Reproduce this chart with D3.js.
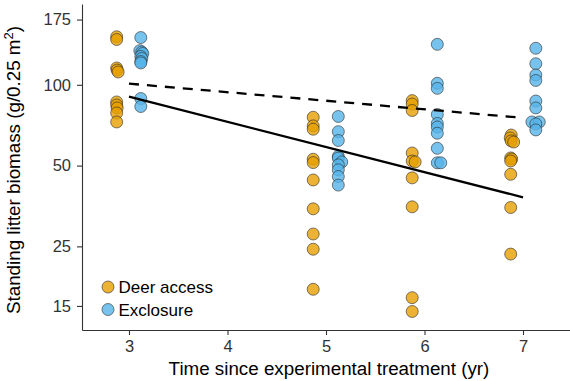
<!DOCTYPE html>
<html>
<head>
<meta charset="utf-8">
<script src="https://cdn.jsdelivr.net/npm/d3@7"></script>
<style>
  html, body { margin: 0; padding: 0; background: #fff; }
  svg { display: block; font-family: "Liberation Sans", Arial, sans-serif; }
</style>
</head>
<body>
<svg id="chart" width="570" height="381"></svg>
<script>
// ---- data: [time (yr, jittered), standing litter biomass (g/0.25 m2)] ----
const deer3 = [[2.875,151],[2.875,147.5],[2.875,115.5],[2.88,113.5],[2.89,111.6],[2.875,86.3],[2.875,84.1],[2.88,82],[2.875,78.5],[2.875,72.7]];
const deer5 = [[4.87,75.7],[4.87,70.3],[4.87,68.3],[4.87,52.8],[4.87,51.3],[4.87,44.2],[4.87,34.5],[4.87,27.8],[4.87,24.4],[4.87,17.3]];
const deer6 = [[5.875,87.3],[5.875,84.8],[5.875,80.2],[5.875,55.7],[5.875,52],[5.905,51.6],[5.875,45],[5.875,35.1],[5.875,16.1],[5.875,14.3]];
const deer7 = [[6.88,65],[6.87,63.4],[6.88,61.8],[6.905,61.2],[6.875,53.4],[6.885,52.9],[6.875,52],[6.875,46.4],[6.875,34.9],[6.875,23.4]];
const excl3 = [[3.12,150],[3.11,134],[3.13,132.5],[3.14,130.8],[3.12,127.5],[3.13,125.3],[3.12,122.1],[3.12,120.6],[3.12,88.9],[3.12,83]];
const excl5 = [[5.125,76.2],[5.125,66.9],[5.125,62],[5.125,54.1],[5.125,53.3],[5.16,51.6],[5.125,50.3],[5.125,48.2],[5.125,45.5],[5.125,42.3]];
const excl6 = [[6.13,141.5],[6.13,101.3],[6.13,97],[6.13,77.5],[6.13,71.8],[6.13,69.6],[6.13,66],[6.13,58],[6.13,51.2],[6.165,51.2]];
const excl7 = [[7.13,136.8],[7.13,119.8],[7.13,108.8],[7.13,103.8],[7.13,87],[7.13,82],[7.09,72.7],[7.165,72.7],[7.13,71.5],[7.13,67.9]];
// fitted trends (log scale)
const fitDeer = [[3, 90.3], [7, 38.1]];
const fitExcl = [[3, 101], [7, 75.3]];
// axis ticks
const xTicks = [3, 4, 5, 6, 7];
const yTicks = [15, 25, 50, 100, 175];
const groups = ["Deer access", "Exclosure"];
const colors = ["#E69F00", "#56B4E9"];

const deerAll = deer3.concat(deer5, deer6, deer7);
const exclAll = excl3.concat(excl5, excl6, excl7);

const svg = d3.select("#chart");
const L = 82, R = 570, T = 4, B = 330;

const x = d3.scaleLinear().domain([2.523, 7.477]).range([L, R]);
const y = d3.scaleLog().domain([12.2, 200]).range([B, T]);

// axes
const xAxis = svg.append("g").attr("transform", `translate(0,${B})`)
  .call(d3.axisBottom(x).tickValues(xTicks).tickSize(5).tickSizeOuter(0).tickPadding(5).tickFormat(d3.format("d")));
const yAxis = svg.append("g").attr("transform", `translate(${L},0)`)
  .call(d3.axisLeft(y).tickValues(yTicks).tickSize(5).tickSizeOuter(0).tickPadding(6).tickFormat(d3.format("d")));
[xAxis, yAxis].forEach(a => {
  a.select(".domain").attr("stroke", "#333").attr("stroke-width", 1.1);
  a.selectAll(".tick line").attr("stroke", "#333").attr("stroke-width", 1.1);
  a.selectAll(".tick text").attr("fill", "#333").style("font-size", "16.5px")
    .style("font-family", "'Liberation Sans', Arial, sans-serif");
});

// points
const pts = svg.append("g");
[[deerAll, colors[0]], [exclAll, colors[1]]].forEach(([data, col]) => {
  pts.selectAll(null).data(data).enter().append("circle")
    .attr("cx", d => x(d[0])).attr("cy", d => y(d[1])).attr("r", 6)
    .attr("fill", col).attr("fill-opacity", 0.8)
    .attr("stroke", "#2a2a2a").attr("stroke-opacity", 0.75).attr("stroke-width", 0.8);
});

// fitted lines
const line = d3.line().x(d => x(d[0])).y(d => y(d[1]));
svg.append("path").datum(fitDeer).attr("d", line)
  .attr("fill", "none").attr("stroke", "#000").attr("stroke-width", 2.3);
svg.append("path").datum(fitExcl).attr("d", line)
  .attr("fill", "none").attr("stroke", "#000").attr("stroke-width", 2.3)
  .attr("stroke-dasharray", "10,8");

// legend
const leg = svg.append("g");
groups.forEach((g, i) => {
  const cy = 287 + i * 22.5;
  leg.append("circle").attr("cx", 108).attr("cy", cy).attr("r", 6)
    .attr("fill", colors[i]).attr("fill-opacity", 0.8)
    .attr("stroke", "#2a2a2a").attr("stroke-opacity", 0.75).attr("stroke-width", 0.8);
  leg.append("text").attr("x", 118.5).attr("y", cy + 6)
    .style("font-size", "17px").attr("fill", "#000").text(g);
});

// axis titles
svg.append("text").attr("x", (L + R) / 2 + 3).attr("y", 375)
  .attr("text-anchor", "middle").style("font-size", "18.8px").attr("fill", "#000")
  .text("Time since experimental treatment (yr)");
const yt = svg.append("text")
  .attr("transform", `translate(19.5,${(T + B) / 2 + 3}) rotate(-90)`)
  .attr("text-anchor", "middle").style("font-size", "18.8px").attr("fill", "#000");
yt.append("tspan").text("Standing litter biomass (g/0.25 m");
yt.append("tspan").attr("dy", -7).style("font-size", "13px").text("2");
yt.append("tspan").attr("dy", 7).text(")");
</script>
</body>
</html>
